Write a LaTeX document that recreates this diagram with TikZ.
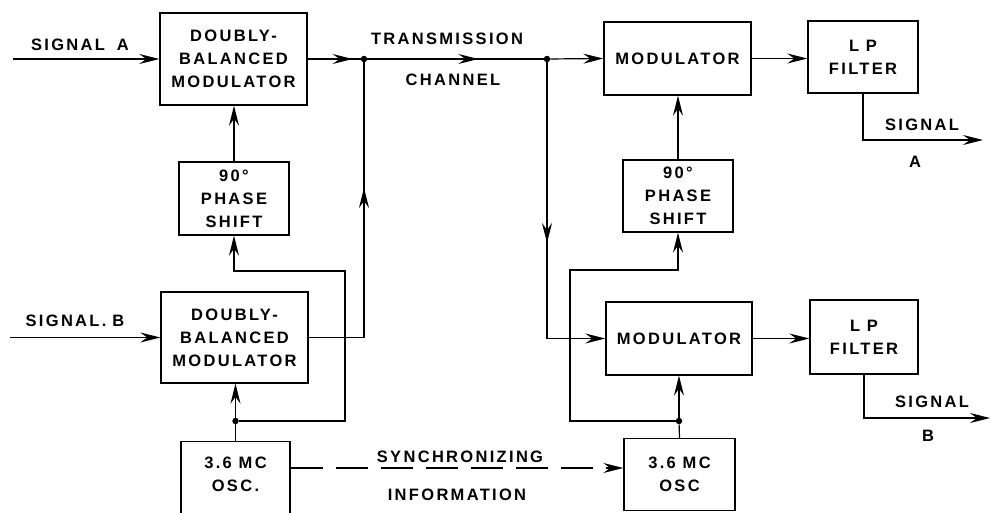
\documentclass[tikz,border=0pt]{standalone}
\usepackage{fontspec}
\setmainfont{Liberation Sans}
\newfontfamily\lblfont[LetterSpace=14]{Liberation Sans Bold}
\usetikzlibrary{arrows.meta,decorations.markings}
\begin{document}
\begin{tikzpicture}[x=1pt,y=-1pt,
  every node/.style={font=\lblfont\fontsize{16.5}{23}\selectfont},
  box/.style={draw, line width=1.4pt, align=center, inner sep=0pt},
  conn/.style={line width=1.2pt},
  tip/.style={-{Stealth[length=20pt,width=10pt,inset=7pt]}},
  midarr/.style={postaction={decorate},decoration={markings,mark=at position #1 with {\arrow{Stealth[length=20pt,width=10pt,inset=7pt]}}}},
  dot/.style={circle,fill,inner sep=0pt,minimum size=6.5pt},
  lbl/.style={align=center, inner sep=0pt}]
\useasboundingbox (0,0) rectangle (991,512);
\clip (0,0) rectangle (991,512);

% boxes
\node[box, minimum width=147pt, minimum height=92pt] (dbmA) at (233.5,59) {DOUBLY-\\BALANCED\\MODULATOR};
\node[box, minimum width=110pt, minimum height=73pt] (psA) at (234,198.5) {90°\\PHASE\\SHIFT};
\node[box, minimum width=147pt, minimum height=91pt] (dbmB) at (234.5,337.5) {DOUBLY-\\BALANCED\\MODULATOR};
\node[box, minimum width=109pt, minimum height=90pt, anchor=north] (oscA) at (235.5,441) {};
\node[lbl] (oscAt) at (235.5,474) {3.6 MC\\OSC.};
\node[box, minimum width=147pt, minimum height=73pt] (modA) at (677.5,58.5) {MODULATOR};
\node[box, minimum width=110pt, minimum height=72pt] (lpA) at (863,57) {L P\\FILTER};
\node[box, minimum width=110pt, minimum height=72pt] (psB) at (678,196) {90°\\PHASE\\SHIFT};
\node[box, minimum width=146pt, minimum height=73pt] (modB) at (679,338.5) {MODULATOR};
\node[box, minimum width=108pt, minimum height=74pt] (lpB) at (864,337) {L P\\FILTER};
\node[box, minimum width=111pt, minimum height=72pt] (oscB) at (679.5,474.5) {3.6 MC\\OSC};

% junctions
\node[dot] (j1) at (364,59) {};
\node[dot] (j2) at (547,59) {};
\node[dot] (d1) at (235.5,421) {};
\node[dot] (d2) at (679,421) {};

% free ends and bends
\coordinate (sa) at (13,59);
\coordinate (sb) at (10,337.5);
\coordinate (outA) at (983,140);
\coordinate (outB) at (990,418);
\coordinate (bA1) at (345,421);
\coordinate (bA2) at (345,271);
\coordinate (bA3) at (234,271);
\coordinate (bB1) at (570,421);
\coordinate (bB2) at (570,270);
\coordinate (bB3) at (678,270);
\coordinate (sy) at (0,468);

% connectors, left
\draw[conn,tip] (sa) -- (dbmA.west);
\draw[conn,tip] (sb) -- (dbmB.west);
\draw[conn,midarr=0.85] (dbmA.east) -- (j1);
\draw[conn,midarr=0.63] (j1) -- (j2);
\draw[conn,tip] (j2) -- (modA.west);
\draw[conn,tip,midarr=0.54] (j2) -- (j2 |- modB.west) -- (modB.west);
\draw[conn,midarr=0.62] (dbmB.east) -- (dbmB.east -| j1) -- (j1);
\draw[conn,tip] (psA.north) -- (psA.north |- dbmA.south);
\draw[conn] (oscA.north) -- (d1);
\draw[conn,tip] (d1) -- (d1 |- dbmB.south);
\draw[conn,tip] (d1) -- (bA1) -- (bA2) -- (bA3) -- (psA.south);

% connectors, right
\draw[conn,tip] (psB.north) -- (psB.north |- modA.south);
\draw[conn] (oscB.north) -- (d2);
\draw[conn,tip] (d2) -- (d2 |- modB.south);
\draw[conn,tip] (d2) -- (bB1) -- (bB2) -- (bB3) -- (psB.south);
\draw[conn,tip] (modA.east) -- (modA.east -| lpA.west);
\draw[conn,tip] (lpA.south) -- (lpA.south |- outA) -- (outA);
\draw[conn,tip] (modB.east) -- (modB.east -| lpB.west);
\draw[conn,tip] (lpB.south) -- (lpB.south |- outB) -- (outB);
\draw[conn,tip,dash pattern=on 32pt off 13pt] (oscA.east |- sy) -- (oscB.west |- sy);

% labels
\node[lbl] (lsa) at (80,45) {SIGNAL\hspace{12pt}A};
\node[lbl] (lsb) at (75,321) {SIGNAL.\hspace{6pt}B};
\node[lbl] (ltr) at (447,39) {TRANSMISSION};
\node[lbl] (lch) at (453,80) {CHANNEL};
\node[lbl] (lsA) at (922,125) {SIGNAL};
\node[lbl] (lA) at (915,162) {A};
\node[lbl] (lsB) at (932,402) {SIGNAL};
\node[lbl] (lB) at (928,436) {B};
\node[lbl] (lsy) at (460,457) {SYNCHRONIZING};
\node[lbl] (lin) at (457,495) {INFORMATION};
\end{tikzpicture}
\end{document}
